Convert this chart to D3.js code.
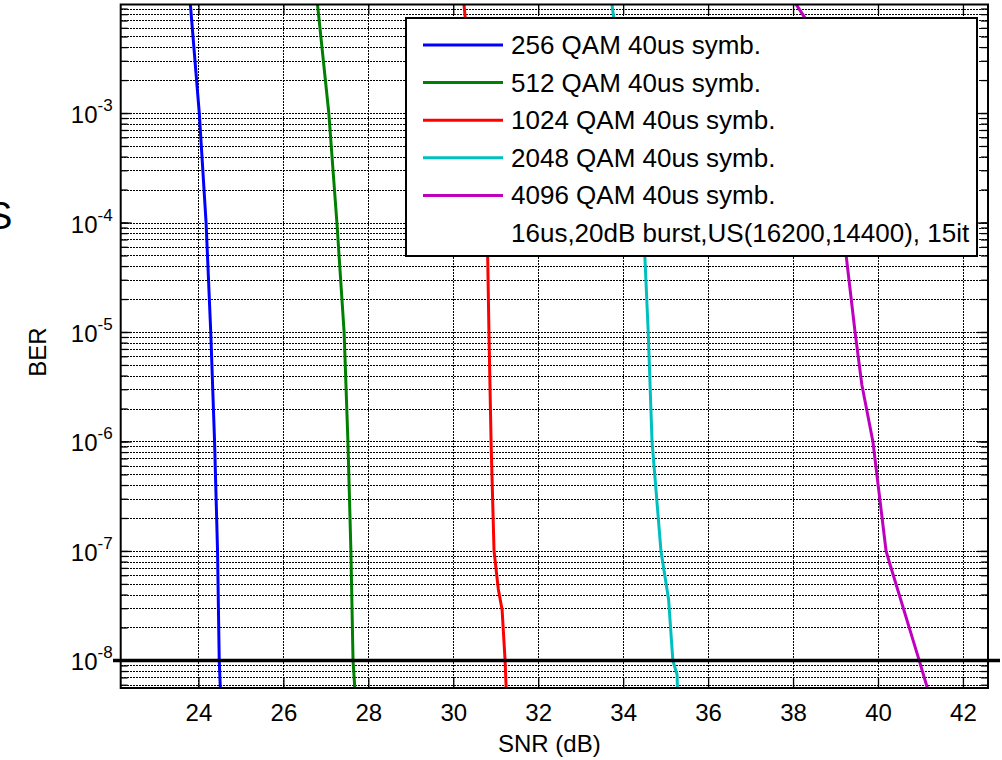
<!DOCTYPE html>
<html><head><meta charset="utf-8">
<script src="https://cdn.jsdelivr.net/npm/d3@7"></script>
<style>
body{margin:0;background:#fff}
svg{display:block}
text{font-family:"Liberation Sans",Arial,Helvetica,sans-serif;fill:#000}
</style>
</head><body>
<svg id="chart" width="1002" height="760"></svg>
<script>
// ---------------- data ----------------
const seriesNames = ["256 QAM 40us symb.","512 QAM 40us symb.","1024 QAM 40us symb.","2048 QAM 40us symb.","4096 QAM 40us symb."];
const seriesColors = ["#0000ff","#008000","#ff0000","#00bfbf","#bf00bf"];
const legendNote = "16us,20dB burst,US(16200,14400), 15it";

const snr256  = [23.80, 24.02, 24.18, 24.29, 24.38, 24.45, 24.49, 24.52];
const ber256  = [1.1e-2, 1e-3, 1e-4, 1e-5, 1e-6, 1e-7, 1e-8, 5e-9];

const snr512  = [26.79, 27.07, 27.26, 27.43, 27.52, 27.59, 27.64, 27.69];
const ber512  = [1.1e-2, 1e-3, 1e-4, 1e-5, 1e-6, 1e-7, 1e-8, 5e-9];

const snr1024 = [30.24, 30.81, 30.84, 30.89, 30.96, 31.06, 31.15, 31.22, 31.25];
const ber1024 = [1.1e-2, 5e-5, 1e-5, 1e-6, 1e-7, 4.5e-8, 2.9e-8, 1e-8, 5e-9];

const snr2048 = [33.72, 34.51, 34.59, 34.68, 34.89, 35.07, 35.17, 35.27, 35.28];
const ber2048 = [1.1e-2, 5e-5, 1e-5, 1e-6, 1e-7, 3.6e-8, 1e-8, 7.4e-9, 5e-9];

const snr4096 = [37.99, 38.28, 39.25, 39.46, 39.62, 39.88, 40.19, 40.28, 40.97, 41.20];
const ber4096 = [1.1e-2, 7.4e-3, 5e-5, 1e-5, 3.3e-6, 1e-6, 1e-7, 7.6e-8, 1e-8, 5e-9];

const seriesSNR = [snr256, snr512, snr1024, snr2048, snr4096];
const seriesBER = [ber256, ber512, ber1024, ber2048, ber4096];

const xTicks = [24, 26, 28, 30, 32, 34, 36, 38, 40, 42];
const yDecadeExponents = [-8, -7, -6, -5, -4, -3];
const xDomain = [22.17, 42.59];
const yDomain = [5.6e-9, 9.8e-3];
const refBER = 1e-8;
const xLabel = "SNR (dB)";
const yLabel = "BER";

// ---------------- layout ----------------
const L = 120.7, R = 988, T = 4.5, B = 688;
const svg = d3.select("#chart");
const x = d3.scaleLinear().domain(xDomain).range([L, R]);
const y = d3.scaleLog().domain(yDomain).range([B, T]);

const yMinor = [];
for (let e = -9; e <= -2; e++) for (let m = 1; m <= 9; m++) {
  const v = m * Math.pow(10, e);
  if (v >= yDomain[0] && v <= yDomain[1]) yMinor.push(v);
}

svg.append("defs").append("clipPath").attr("id","clip")
  .append("rect").attr("x",L).attr("y",T).attr("width",R-L).attr("height",B-T);

// dotted grid
const grid = svg.append("g").attr("stroke","#000").attr("stroke-width",1)
  .attr("stroke-dasharray","2,1").attr("shape-rendering","crispEdges");
grid.selectAll("line.h").data(yMinor).join("line")
  .attr("x1",L).attr("x2",R).attr("y1",d=>Math.round(y(d))+0.5).attr("y2",d=>Math.round(y(d))+0.5);
grid.selectAll("line.v").data(xTicks).join("line")
  .attr("y1",T).attr("y2",B).attr("x1",d=>Math.round(x(d))+0.5).attr("x2",d=>Math.round(x(d))+0.5);

// axes (ticks inward)
const axB = svg.append("g").attr("transform",`translate(0,${B})`)
  .call(d3.axisBottom(x).tickValues(xTicks).tickSize(-10).tickPadding(16).tickFormat(d3.format("d")));
svg.append("g").attr("transform",`translate(0,${T})`)
  .call(d3.axisTop(x).tickValues(xTicks).tickSize(-10).tickFormat(""));
svg.append("g").attr("transform",`translate(${L},0)`)
  .call(d3.axisLeft(y).tickValues(yMinor).tickSize(-7).tickFormat(""));
svg.append("g").attr("transform",`translate(${R},0)`)
  .call(d3.axisRight(y).tickValues(yMinor).tickSize(-7).tickFormat(""));
const decVals = yDecadeExponents.map(e=>Math.pow(10,e));
svg.append("g").attr("transform",`translate(${L},0)`)
  .call(d3.axisLeft(y).tickValues(decVals).tickSize(-11).tickFormat(""));
svg.append("g").attr("transform",`translate(${R},0)`)
  .call(d3.axisRight(y).tickValues(decVals).tickSize(-11).tickFormat(""));
svg.selectAll(".domain").remove();
svg.selectAll(".tick line").attr("stroke","#000").attr("stroke-width",1.3);
axB.selectAll(".tick text").attr("font-size",24).attr("font-family",'"Liberation Sans",Arial,sans-serif');

// y tick labels 10^e
const yl = svg.append("g");
yDecadeExponents.forEach(e=>{
  const t = yl.append("text").attr("x",L-8).attr("y",y(Math.pow(10,e))+10)
    .attr("text-anchor","end").attr("font-size",24);
  t.append("tspan").text("10");
  t.append("tspan").attr("font-size",17).attr("dy",-12).text(String(e));
});

// curves
const line = d3.line().x(d=>x(d[0])).y(d=>y(d[1]));
const curves = svg.append("g").attr("clip-path","url(#clip)");
seriesSNR.forEach((s,i)=>{
  curves.append("path").datum(s.map((v,j)=>[v, seriesBER[i][j]]))
    .attr("d",line).attr("fill","none").attr("stroke",seriesColors[i])
    .attr("stroke-width",3).attr("stroke-linejoin","round");
});

// reference line at 1e-8
svg.append("line").attr("x1",113).attr("x2",1000)
  .attr("y1",y(refBER)).attr("y2",y(refBER)).attr("stroke","#000").attr("stroke-width",3.5);

// box
svg.append("rect").attr("x",L).attr("y",T).attr("width",R-L).attr("height",B-T)
  .attr("fill","none").attr("stroke","#000").attr("stroke-width",2);

// axis labels
svg.append("text").attr("x",(L+R)/2 - 5).attr("y",752).attr("text-anchor","middle")
  .attr("font-size",24).text(xLabel);
svg.append("text").attr("transform","translate(46,352) rotate(-90)").attr("text-anchor","middle")
  .attr("font-size",24).text(yLabel);

// cropped title fragment at the left edge (as in the reference)
svg.append("text").attr("x",-13).attr("y",229).attr("font-size",38).text("S");

// legend
const lg = svg.append("g");
const lgX = 406, lgY = 18, lgW = 571, lgH = 238, rowH = 37.6, row0 = 45;
lg.append("rect").attr("x",lgX).attr("y",lgY).attr("width",lgW).attr("height",lgH)
  .attr("fill","#fff").attr("stroke","#000").attr("stroke-width",2);
const labels = seriesNames.concat([legendNote]);
labels.forEach((n,i)=>{
  const cy = row0 + i*rowH;
  if (i < seriesColors.length)
    lg.append("line").attr("x1",423).attr("x2",503).attr("y1",cy).attr("y2",cy)
      .attr("stroke",seriesColors[i]).attr("stroke-width",3);
  lg.append("text").attr("x",511).attr("y",cy+9).attr("font-size",26).text(n);
});
</script>
</body></html>
